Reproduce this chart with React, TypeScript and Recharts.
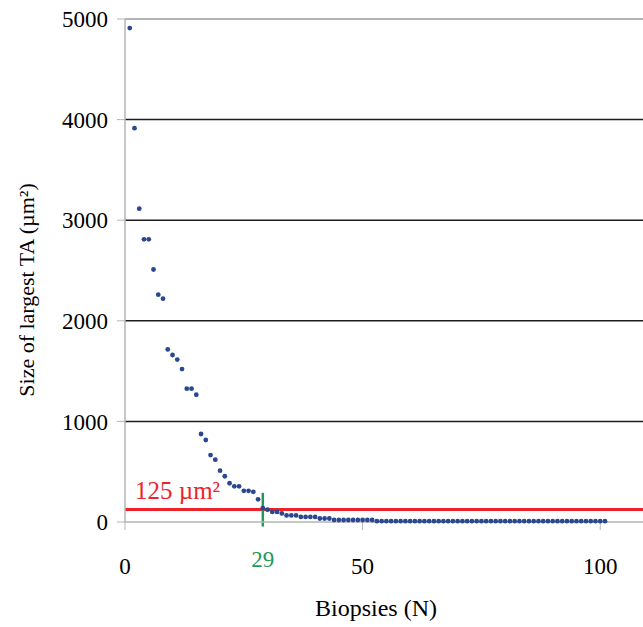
import React from "react";
import {
  ScatterChart,
  Scatter,
  XAxis,
  YAxis,
  CartesianGrid,
  ReferenceLine,
  Label,
} from "recharts";

// size of the largest TA (µm²) for N = 1..101 biopsies
const largestTA = [
  4910, 3915, 3115, 2810, 2810, 2510, 2260, 2220, 1715, 1660,
  1615, 1520, 1325, 1325, 1265, 875, 815, 665, 620, 510,
  455, 385, 355, 355, 310, 310, 300, 225, 138, 123,
  100, 100, 85, 65, 65, 65, 50, 50, 50, 50,
  35, 35, 35, 20, 20, 20, 20, 20, 20, 20,
  20, 20, 8, 8, 8, 8, 8, 8, 8, 8,
  8, 8, 8, 8, 8, 8, 8, 8, 8, 8,
  8, 8, 8, 8, 8, 8, 8, 8, 8, 8,
  8, 8, 8, 8, 8, 8, 8, 8, 8, 8,
  8, 8, 8, 8, 8, 8, 8, 8, 8, 8,
  8,
];

const xTicks = [0, 50, 100];
const yTicks = [0, 1000, 2000, 3000, 4000, 5000];
const gridValues = [1000, 2000, 3000, 4000];
const threshold = 125;
const cutoff = 29;

const points = largestTA.map((ta, i) => ({ n: i + 1, ta }));

const serif = "Liberation Serif";
const axisGray = "#b4b4b4";
const pageCss = `body{margin:0} .chart svg text{font-family:"Liberation Serif" !important}`;

const XTick = (props: any) => {
  const { x, y, payload } = props;
  return (
    <text x={x} y={y + 42} textAnchor="middle" fontSize={23} style={{ fontFamily: serif }} fill="#000">
      {payload.value}
    </text>
  );
};

const Dot = (props: any) => <circle cx={props.cx} cy={props.cy} r={2.4} fill="#2b4790" />;

export default function App() {
  return (
    <div className="chart" style={{ width: 643, height: 627 }}>
      <style>{pageCss}</style>
      <ScatterChart width={643} height={627} margin={{ top: 19, right: 0, bottom: 0, left: 0 }}>
        <CartesianGrid
          vertical={false}
          horizontalValues={gridValues}
          stroke="#1c1c1c"
          strokeWidth={1.5}
        />
        <XAxis
          type="number"
          dataKey="n"
          domain={[0, 109]}
          ticks={xTicks}
          allowDataOverflow
          height={105}
          tickSize={8}
          axisLine={{ stroke: axisGray, strokeWidth: 1.5 }}
          tickLine={{ stroke: axisGray }}
          tick={<XTick />}
        >
          <Label
            content={() => (
              <text x={376} y={616} textAnchor="middle" fontSize={24} style={{ fontFamily: serif }} fill="#000">
                Biopsies (N)
              </text>
            )}
          />
        </XAxis>
        <YAxis
          type="number"
          dataKey="ta"
          domain={[0, 5000]}
          ticks={yTicks}
          width={125}
          tickSize={8}
          tickMargin={9}
          axisLine={{ stroke: axisGray, strokeWidth: 1.5 }}
          tickLine={{ stroke: axisGray }}
          tick={{ fill: "#000", fontSize: 23 }}
        >
          <Label
            content={() => (
              <text
                x={26}
                y={290}
                transform="rotate(-90 26 290)"
                textAnchor="middle"
                dominantBaseline="central"
                fontSize={22}
                style={{ fontFamily: serif }}
                fill="#000"
              >
                Size of largest TA (µm²)
              </text>
            )}
          />
        </YAxis>
        <ReferenceLine y={5000} stroke={axisGray} strokeWidth={2} />
        <ReferenceLine y={threshold} stroke="#ee2329" strokeWidth={3}>
          <Label
            value="125 µm²"
            position="insideBottomLeft"
            offset={10}
            fill="#ee2329"
            fontSize={25}
          />
        </ReferenceLine>
        <Scatter data={points} shape={<Dot />} isAnimationActive={false} />
        <ReferenceLine
          segment={[
            { x: cutoff, y: -45 },
            { x: cutoff, y: 290 },
          ]}
          stroke="#1f9a58"
          strokeWidth={2.5}
          ifOverflow="visible"
        >
          <Label
            value={String(cutoff)}
            position="bottom"
            offset={24}
            fill="#1f9a58"
            fontSize={23}
          />
        </ReferenceLine>
      </ScatterChart>
    </div>
  );
}
